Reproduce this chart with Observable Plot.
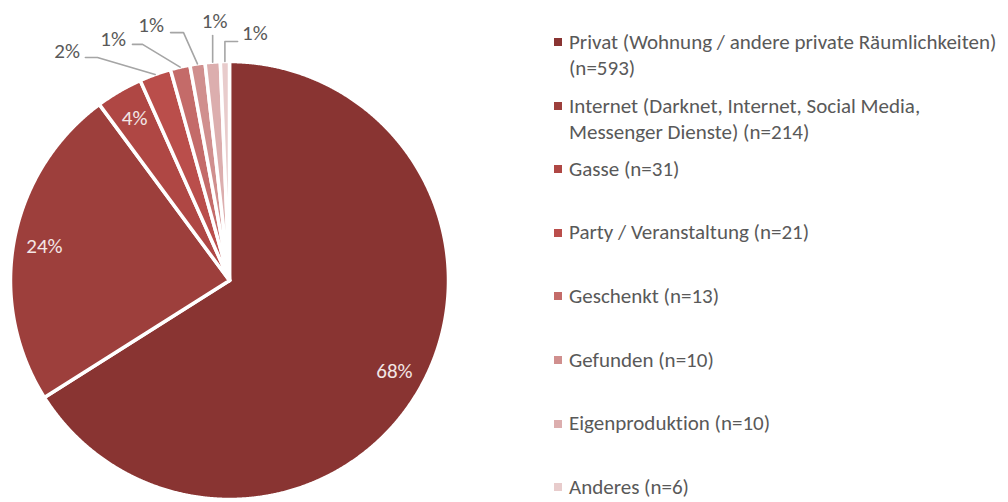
<!DOCTYPE html>
<html>
<head>
<meta charset="utf-8">
<script src="https://cdn.jsdelivr.net/npm/d3@7"></script>
<script src="https://cdn.jsdelivr.net/npm/@observablehq/plot@0.6"></script>
<style>
  body { margin: 0; background: #fff; }
  #wrap { position: relative; width: 1008px; height: 502px; overflow: hidden; font-variant-ligatures: none; }
  #wrap svg { position: absolute; left: 0; top: 0; font-variant-ligatures: none; }
  .lg-sq { position: absolute; width: 8px; height: 8px; }
  .lg-tx { position: absolute; white-space: nowrap; color: #595959; font-weight: 300; }
</style>
</head>
<body>
<div id="wrap"></div>
<script>
// ---- data ----
const categories = [
  "Privat (Wohnung / andere private Räumlichkeiten)",
  "Internet (Darknet, Internet, Social Media, Messenger Dienste)",
  "Gasse",
  "Party / Veranstaltung",
  "Geschenkt",
  "Gefunden",
  "Eigenproduktion",
  "Anderes"
];
const counts = [593, 214, 31, 21, 13, 10, 10, 6];
const percentLabels = ["68%", "24%", "4%", "2%", "1%", "1%", "1%", "1%"];
const legendLines = [
  ["Privat (Wohnung / andere private Räumlichkeiten)", "(n=593)"],
  ["Internet (Darknet, Internet, Social Media,", "Messenger Dienste) (n=214)"],
  ["Gasse (n=31)"],
  ["Party / Veranstaltung (n=21)"],
  ["Geschenkt (n=13)"],
  ["Gefunden (n=10)"],
  ["Eigenproduktion (n=10)"],
  ["Anderes (n=6)"]
];
const colors = ["#893432", "#9d3f3c", "#af4744", "#ba4e4b", "#c46b69", "#d08f8e", "#dcaeae", "#e8cccc"];

// ---- layout (label placement for the small slices, in pie-radius units) ----
const insideRadius = 0.86;
const outsideLayout = [
  { i: 3, elbow: [-0.603, 1.018], end: [-0.658, 1.018], label: [-0.683, 1.046], anchor: "end" },
  { i: 4, elbow: [-0.397, 1.078], end: [-0.443, 1.078], label: [-0.473, 1.100], anchor: "end" },
  { i: 5, elbow: [-0.210, 1.132], end: [-0.269, 1.132], label: [-0.299, 1.164], anchor: "end" },
  { i: 6, elbow: null,            end: [null, 1.119],   label: [-0.068, 1.183], anchor: "middle" },
  { i: 7, elbow: [null, 1.091],   end: [0.037, 1.091],  label: [0.057, 1.128],  anchor: "start" }
];

const FONT = 'Carlito, Calibri, Lato, "Open Sans", sans-serif';
const ctx = document.createElement("canvas").getContext("2d");
ctx.font = `300 20px ${FONT}`;
const fs = Math.min(21, 20 * 429 / ctx.measureText(legendLines[0][0]).width);
const fsPct = Math.min(21, 20 * 37 / ctx.measureText("68%").width);

// ---- geometry from data ----
const arcs = d3.pie().sort(null).value(d => d)(counts);
const slicePts = [];
arcs.forEach((p, i) => {
  const n = Math.max(4, Math.ceil((p.endAngle - p.startAngle) / 0.004));
  slicePts.push({ name: categories[i], x: 0, y: 0 });
  for (let k = 0; k <= n; k++) {
    const a = p.startAngle + (p.endAngle - p.startAngle) * k / n;
    slicePts.push({ name: categories[i], x: Math.sin(a), y: Math.cos(a) });
  }
  slicePts.push({ name: categories[i], x: 0, y: 0 });
});
const mid = p => (p.startAngle + p.endAngle) / 2;

const inside = arcs.slice(0, 3).map((p, i) => ({
  x: insideRadius * Math.sin(mid(p)), y: insideRadius * Math.cos(mid(p)), t: percentLabels[i]
}));

const leaders = [];
const outside = [];
outsideLayout.forEach(L => {
  const p = arcs[L.i];
  const ox = Math.sin(mid(p)), oy = Math.cos(mid(p));
  const pts = [[ox, oy]];
  if (L.elbow) pts.push([L.elbow[0] ?? ox, L.elbow[1]]);
  pts.push([L.end[0] ?? ox, L.end[1]]);
  pts.forEach(([x, y]) => leaders.push({ k: L.i, x, y }));
  outside.push({ x: L.label[0], y: L.label[1], t: percentLabels[L.i], anchor: L.anchor });
});

const R = 219, cx = 229, cy = 280;
const textOpts = { x: "x", y: "y", text: "t", fontSize: fsPct, fontWeight: 300 };
const chart = Plot.plot({
  width: 1008,
  height: 502,
  margin: 0,
  style: { fontFamily: FONT, background: "white" },
  x: { domain: [-1, 1], range: [cx - R, cx + R], axis: null },
  y: { domain: [-1, 1], range: [cy + R, cy - R], axis: null },
  color: { domain: categories, range: colors },
  marks: [
    Plot.line(slicePts, { x: "x", y: "y", z: "name", fill: "name", stroke: "white", strokeWidth: 3.5, strokeLinejoin: "round", curve: "linear" }),
    Plot.line(leaders, { x: "x", y: "y", z: "k", stroke: "#a5a5a5", strokeWidth: 1.6 }),
    Plot.text(inside, { ...textOpts, fill: "#f3e6e6" }),
    Plot.text(outside.filter(d => d.anchor === "end"), { ...textOpts, fill: "#595959", textAnchor: "end" }),
    Plot.text(outside.filter(d => d.anchor === "middle"), { ...textOpts, fill: "#595959", textAnchor: "middle" }),
    Plot.text(outside.filter(d => d.anchor === "start"), { ...textOpts, fill: "#595959", textAnchor: "start" })
  ]
});

const wrap = document.getElementById("wrap");
wrap.appendChild(chart);

// ---- legend ----
const legendTop = 42, legendStep = 63.6, lineH = 26;
legendLines.forEach((lines, i) => {
  const yc = legendTop + i * legendStep;
  const sq = document.createElement("div");
  sq.className = "lg-sq";
  sq.style.left = "554px";
  sq.style.top = (yc - 4) + "px";
  sq.style.background = colors[i];
  wrap.appendChild(sq);
  const tx = document.createElement("div");
  tx.className = "lg-tx";
  tx.style.left = "569px";
  const h = lines.length === 1 ? Math.ceil(fs * 1.15) : lineH;
  tx.style.lineHeight = h + "px";
  tx.style.top = (yc - h / 2) + "px";
  tx.style.fontFamily = FONT;
  tx.style.fontSize = fs + "px";
  tx.innerHTML = lines.map(s => s.replace(/&/g, "&amp;").replace(/</g, "&lt;")).join("<br>");
  wrap.appendChild(tx);
});
</script>
</body>
</html>
